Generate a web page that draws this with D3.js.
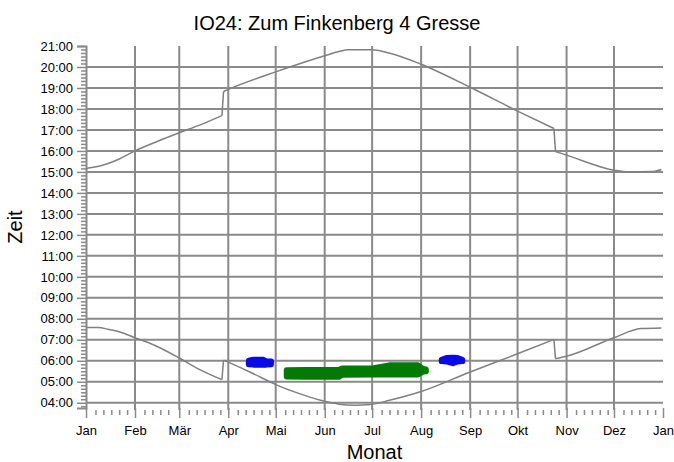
<!DOCTYPE html>
<html>
<head>
<meta charset="utf-8">
<script src="https://cdn.jsdelivr.net/npm/d3@7"></script>
<style>
body { margin: 0; background: #fff; }
text { font-family: Arial, "Liberation Sans", sans-serif; }
</style>
</head>
<body>
<div id="app"></div>
<script>
const year = 2015;
const monthLabels = ["Jan", "Feb", "Mär", "Apr", "Mai", "Jun", "Jul", "Aug", "Sep", "Okt", "Nov", "Dez", "Jan"];
const hourTicks = [4, 5, 6, 7, 8, 9, 10, 11, 12, 13, 14, 15, 16, 17, 18, 19, 20, 21];

// sunset (upper line)
const sunsetDates = ["01-01", "01-09", "01-15", "01-22", "02-01", "02-15", "03-01", "03-15", "03-28", "03-29",
    "04-01", "05-01", "06-01", "06-10", "06-16", "07-01", "07-11", "08-01", "09-01", "10-01",
    "10-24", "10-25", "11-01", "12-01", "12-10", "12-25", "12-31"];
const sunsetTimes = ["15:10", "15:16", "15:24", "15:37", "16:00", "16:27", "16:52", "17:16", "17:41", "18:50",
    "18:56", "19:46", "20:32", "20:44", "20:49", "20:49", "20:41", "20:08", "19:02", "17:54",
    "17:04", "15:58", "15:48", "15:05", "15:00", "15:01", "15:07"];

// sunrise (lower line)
const sunriseDates = ["01-01", "01-09", "01-15", "01-22", "02-01", "02-14", "03-01", "03-13", "03-28", "03-29",
    "04-01", "04-16", "05-01", "05-16", "06-01", "06-10", "06-20", "06-30", "07-12", "08-01",
    "09-01", "10-01", "10-24", "10-25", "11-01", "12-01", "12-18", "12-31"];
const sunriseTimes = ["07:35", "07:35", "07:30", "07:23", "07:06", "06:43", "06:08", "05:37", "05:06", "06:02",
    "05:56", "05:25", "04:52", "04:26", "04:04", "03:56", "03:53", "03:55", "04:07", "04:32",
    "05:28", "06:20", "07:01", "06:06", "06:13", "07:06", "07:32", "07:34"];

// shadow periods: begin / end per day
const springDates = ["04-14", "04-17", "04-23", "04-25", "04-28"];
const springBegin = ["05:50", "05:49", "05:49", "05:49", "05:50"];
const springEnd = ["06:00", "06:03", "06:03", "05:59", "05:58"];

const summerDates = ["05-08", "05-20", "06-10", "06-12", "07-01", "07-12", "07-30", "08-02", "08-04"];
const summerBegin = ["05:15", "05:14", "05:14", "05:20", "05:21", "05:21", "05:21", "05:29", "05:30"];
const summerEnd = ["05:33", "05:34", "05:34", "05:38", "05:38", "05:47", "05:47", "05:37", "05:35"];

const lateDates = ["08-14", "08-17", "08-21", "08-24", "08-27"];
const lateBegin = ["05:59", "05:58", "05:53", "05:58", "05:59"];
const lateEnd = ["06:03", "06:08", "06:09", "06:08", "06:03"];

const parseDate = d3.timeParse("%Y-%m-%d");
const toHours = s => { let p = s.split(":"); return +p[0] + p[1] / 60; };
const day = s => parseDate(year + "-" + s);

function zipLine(dates, times) {
    return dates.map((d, i) => ({ date: day(d), t: toHours(times[i]) }));
}
function zipPeriod(dates, begin, end) {
    return dates.map((d, i) => ({ date: day(d), t0: toHours(begin[i]), t1: toHours(end[i]) }));
}

// cut a line at the summer time jumps (two points one day apart)
function splitAtJumps(data) {
    let pieces = [[data[0]]], jumps = [];
    for (let i = 1; i < data.length; i++) {
        if (d3.timeDay.count(data[i - 1].date, data[i].date) <= 1) {
            jumps.push([data[i - 1], data[i]]);
            pieces.push([data[i]]);
        } else {
            pieces[pieces.length - 1].push(data[i]);
        }
    }
    return { pieces, jumps };
}

const width = 674, height = 462;
const plotLeft = 86, plotRight = 663, plotTop = 46, plotBottom = 408;
const gridColor = "#8a8a8a";

const svg = d3.select("#app").append("svg")
    .attr("width", width)
    .attr("height", height);

const x = d3.scaleTime()
    .domain([new Date(year, 0, 1), new Date(year + 1, 0, 1)])
    .range([plotLeft, plotRight]);

const y = d3.scaleLinear()
    .domain([3.75, 21])
    .range([plotBottom, plotTop]);

const monthStarts = d3.range(13).map(m => new Date(year, m, 1));

// minor day ticks
let minorDays = [];
for (let m = 0; m < 12; m++) {
    let n = new Date(year, m + 1, 0).getDate();
    [7, 12, 17, 22, 27].forEach(dd => { if (dd + 3 <= n) minorDays.push(new Date(year, m, dd)); });
}
const minorMinutes = d3.range(3 + 50 / 60, 21, 1 / 6).filter(h => Math.abs(h - Math.round(h)) > 0.01);

// grid
svg.append("g").selectAll("line")
    .data(hourTicks.filter(h => h < 21))
    .enter().append("line")
        .attr("x1", plotLeft).attr("x2", plotRight)
        .attr("y1", d => y(d)).attr("y2", d => y(d))
        .attr("stroke", gridColor)
        .attr("stroke-width", 2);

svg.append("g").selectAll("line")
    .data(monthStarts.slice(1, 12))
    .enter().append("line")
        .attr("x1", d => x(d)).attr("x2", d => x(d))
        .attr("y1", plotTop).attr("y2", plotBottom + 2)
        .attr("stroke", gridColor)
        .attr("stroke-width", 2);

// y axis
svg.append("g")
    .attr("transform", "translate(" + plotLeft + ",0)")
    .call(d3.axisLeft(y).tickValues(hourTicks).tickSize(9).tickPadding(4)
        .tickFormat(h => d3.format("02")(h) + ":00"));
svg.append("g")
    .attr("transform", "translate(" + plotLeft + ",0)")
    .call(d3.axisLeft(y).tickValues(minorMinutes).tickSize(5).tickFormat(""))
    .select(".domain").remove();

// x axis
let xAxis = svg.append("g")
    .attr("transform", "translate(0," + plotBottom + ")")
    .call(d3.axisBottom(x).tickValues(monthStarts).tickSize(10).tickPadding(8)
        .tickFormat((d, i) => monthLabels[i]));
xAxis.select(".domain").remove();
svg.append("g")
    .attr("transform", "translate(0," + (plotBottom + 2) + ")")
    .call(d3.axisBottom(x).tickValues(minorDays).tickSize(5).tickFormat(""))
    .select(".domain").remove();

svg.selectAll(".tick line").attr("stroke", gridColor).attr("stroke-width", 1.5);
svg.selectAll(".domain").attr("stroke", gridColor).attr("stroke-width", 2);
svg.selectAll(".tick text").attr("font-size", 13).attr("fill", "#000")
    .attr("font-family", "Arial, 'Liberation Sans', sans-serif");

// sun lines
let smooth = d3.line().x(d => x(d.date)).y(d => y(d.t)).curve(d3.curveMonotoneX);
let straight = d3.line().x(d => x(d.date)).y(d => y(d.t));
[zipLine(sunsetDates, sunsetTimes), zipLine(sunriseDates, sunriseTimes)].forEach(data => {
    let parts = splitAtJumps(data);
    let g = svg.append("g")
        .attr("fill", "none")
        .attr("stroke", "#808080")
        .attr("stroke-width", 1.5);
    g.selectAll(".piece")
        .data(parts.pieces)
        .enter().append("path")
            .attr("class", "piece")
            .attr("d", smooth);
    g.selectAll(".jump")
        .data(parts.jumps)
        .enter().append("path")
            .attr("class", "jump")
            .attr("d", straight);
});

// shadow periods
let area = d3.area().x(d => x(d.date)).y0(d => y(d.t0)).y1(d => y(d.t1));
[
    [zipPeriod(springDates, springBegin, springEnd), "#0a0ae6"],
    [zipPeriod(summerDates, summerBegin, summerEnd), "#037a03"],
    [zipPeriod(lateDates, lateBegin, lateEnd), "#0a0ae6"]
].forEach(([data, color]) => {
    svg.append("path")
        .datum(data)
        .attr("d", area)
        .attr("fill", color)
        .attr("stroke", color)
        .attr("stroke-width", 6)
        .attr("stroke-linejoin", "round")
        .attr("stroke-linecap", "round");
});

// titles
svg.append("text")
    .attr("x", width / 2)
    .attr("y", 29.5)
    .attr("text-anchor", "middle")
    .attr("font-size", 20)
    .text("IO24: Zum Finkenberg 4 Gresse");

svg.append("text")
    .attr("x", (plotLeft + plotRight) / 2)
    .attr("y", 459)
    .attr("text-anchor", "middle")
    .attr("font-size", 20)
    .text("Monat");

svg.append("text")
    .attr("transform", "translate(22," + ((plotTop + plotBottom) / 2) + ") rotate(-90)")
    .attr("text-anchor", "middle")
    .attr("font-size", 20)
    .text("Zeit");
</script>
</body>
</html>
